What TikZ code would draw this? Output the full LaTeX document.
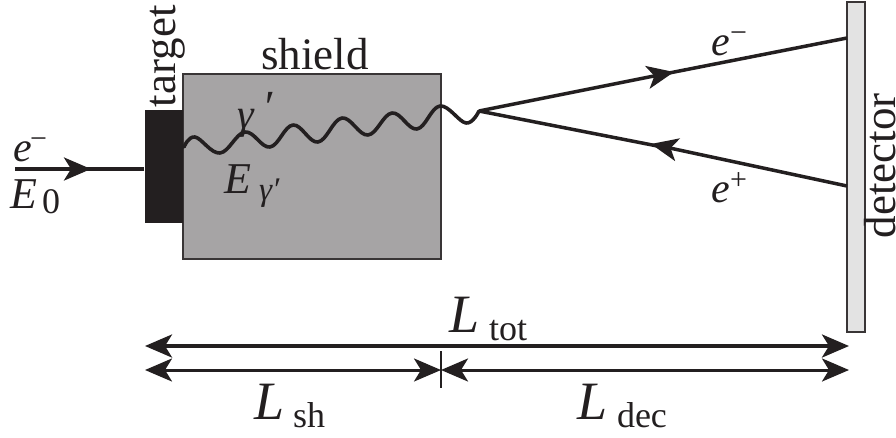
\documentclass[tikz,border=0pt]{standalone}
\usepackage{fontspec}
\setmainfont{Liberation Serif}
\usetikzlibrary{arrows.meta,calc}
\definecolor{ink}{HTML}{231F20}
\definecolor{shieldgray}{HTML}{A6A4A5}
\definecolor{detgray}{HTML}{E3E3E3}
\newcommand{\fs}[1]{\fontsize{#1}{#1}\selectfont}
\tikzset{
  x=1pt,y=-1pt,
  lab/.style={inner sep=0pt,outer sep=0pt,anchor=base west,text=ink},
  big/.style={lab,font=\fs{45}},
  sym/.style={lab,font=\fs{42}\itshape},
  symL/.style={lab,font=\fs{54}\itshape},
  sub/.style={lab,font=\fs{36}},
  supr/.style={lab,font=\fs{30}},
  ray/.style={draw=ink,line width=3.5pt},
  tip/.style={-{Stealth[length=27pt,width=23pt,inset=7pt]},draw=ink,fill=ink},
  dimboth/.style={draw=ink,{Stealth[length=27pt,width=23pt,inset=7pt]}-{Stealth[length=27pt,width=23pt,inset=7pt]}},
  box/.style={draw=ink!90,line width=2.8pt},
}
\begin{document}
\begin{tikzpicture}
\useasboundingbox (0,0) rectangle (896,437);
% bodies
\draw[box,fill=shieldgray] (183,74) rectangle (441,259);
\fill[ink] (145,110) rectangle (183,223);
\draw[box,fill=detgray] (847,2) rectangle (865,332);
% named points
\coordinate (beamstart) at (15,169);
\coordinate (beamtip) at (91,169);
\coordinate (targetface) at (144,169);
\coordinate (vertex) at (479,111);
\coordinate (emtip) at (674,72);
\coordinate (emend) at (847,38);
\coordinate (eptip) at (651,144);
\coordinate (ependa) at (847,186);
\coordinate (totL) at (145,346);
\coordinate (totR) at (849,346);
\coordinate (decL) at (145,370);
\coordinate (mid) at (441,370);
\coordinate (decR) at (849,370);
\coordinate (tickT) at (441,351);
\coordinate (tickB) at (441,388);
% beam
\draw[ray] (targetface) -- ($(beamtip)+(-12,0)$);
\draw[ray,tip] (beamstart) -- (beamtip);
% photon
\draw[draw=ink,line width=3.6pt,line cap=round,line join=round] plot[smooth,tension=0.65] coordinates {
 (184,147) (195,137) (220,153) (245,132) (270,147) (293,125) (318,142) (342,118)
 (368,135) (392,113) (417,129) (440,106) (466,123) (479,111)};
% rays
\draw[ray,tip] (vertex) -- (emtip);
\draw[ray] (emend) -- ($(emtip)+(-12,2.4)$);
\draw[ray,tip] (ependa) -- (eptip);
\draw[ray] (vertex) -- ($(eptip)+(12,3.1)$);
% dimensions
\draw[dimboth,line width=3.6pt] (totL) -- (totR);
\draw[dimboth,line width=3pt] (decL) -- (mid);
\draw[dimboth,line width=3pt] (mid) -- (decR);
\draw[draw=ink,line width=1.8pt] (tickT) -- (tickB);
% labels
\node[big] (shieldlab) at (261,69) {shield};
\node[big,rotate=90] (targetlab) at (175,107) {target};
\node[big,rotate=90] (detlab) at (895,238) {detector};
\node[sym] (e0) at (13,161) {e};
\node[supr] (e0s) at (30,148) {\char"2212};
\node[lab,font=\fs{44}\itshape] (E0) at (10,208) {E};
\node[sub] (E0s) at (42,213) {0};
\node[sym] (gam) at (237,128) {γ};
\node[lab,font=\fs{46}\itshape] (gamp) at (262,122) {′};
\node[lab,font=\fs{44}\itshape] (Eg) at (224,193) {E};
\node[lab,font=\fs{33}\itshape] (Egs) at (259,200) {γ′};
\node[sym] (em) at (711,55) {e};
\node[supr] (ems) at (730,42) {\char"2212};
\node[sym] (ep) at (711,202) {e};
\node[supr] (eps) at (730,189) {+};
\node[symL] (Ltot) at (449,332) {L};
\node[sub] (Ltots) at (489,340) {tot};
\node[symL] (Lsh) at (254,419) {L};
\node[sub] (Lshs) at (293,427) {sh};
\node[symL] (Ldec) at (577,419) {L};
\node[sub] (Ldecs) at (617,427) {dec};
\end{tikzpicture}
\end{document}
